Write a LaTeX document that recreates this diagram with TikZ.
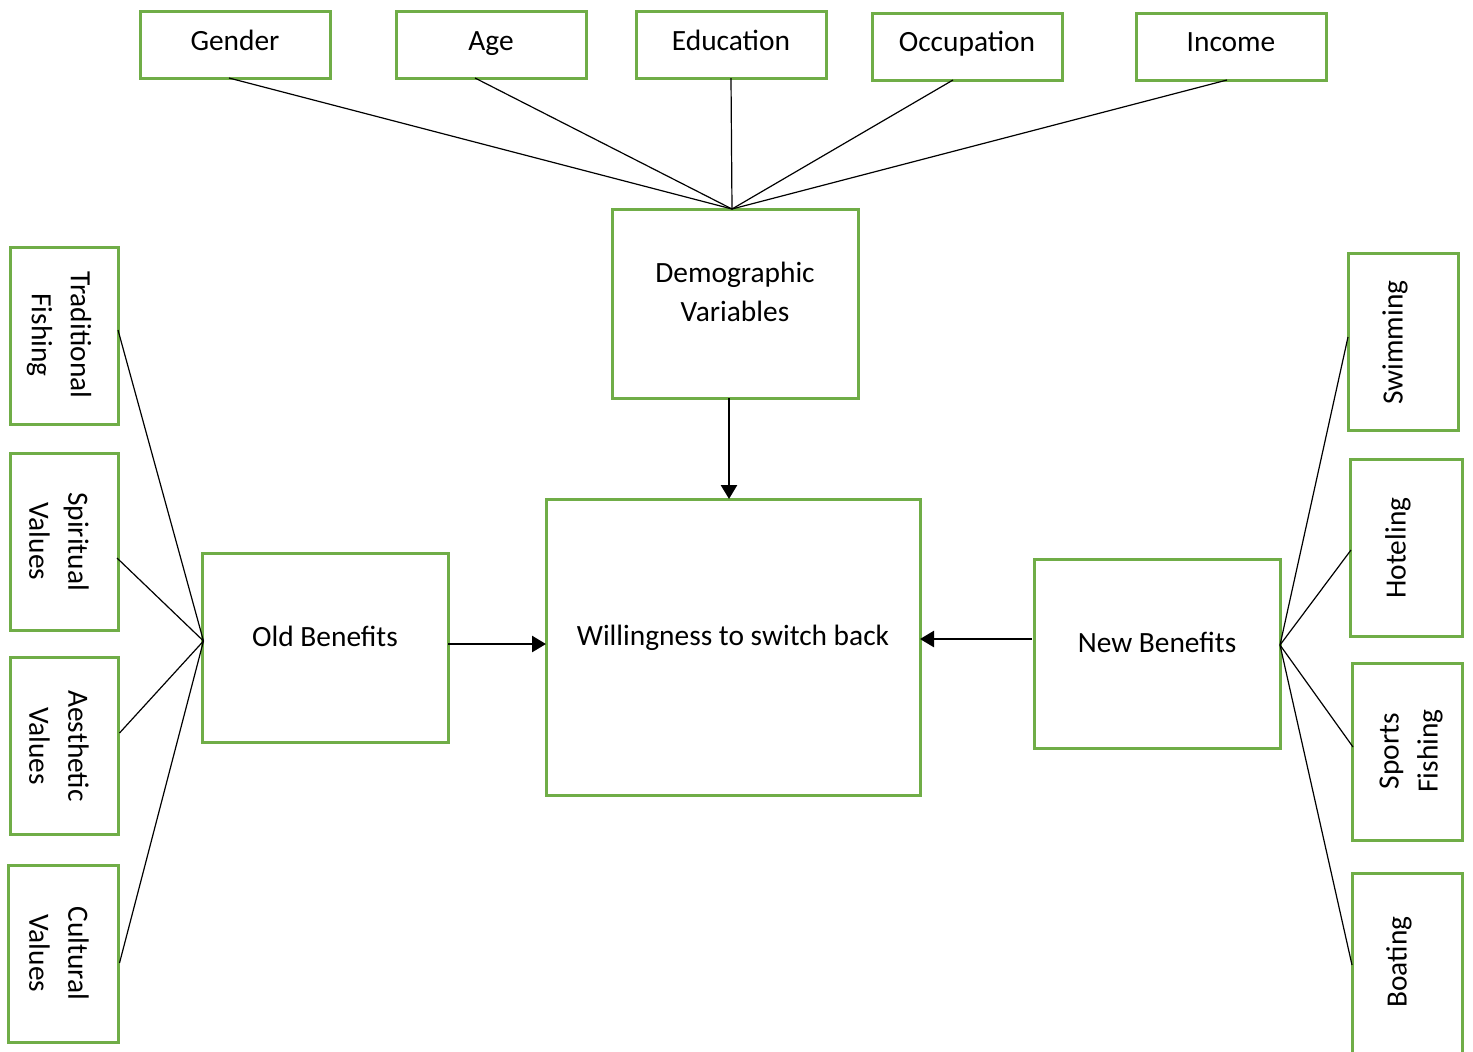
\documentclass[tikz,border=0pt]{standalone}
\usepackage{fontspec}
\setmainfont{Carlito}
\usetikzlibrary{calc,arrows.meta}
\definecolor{boxgreen}{HTML}{70AD47}
\tikzset{
  bx/.style 2 args={draw=boxgreen, line width=1.5pt, inner sep=0pt, outer sep=0pt,
    minimum width={(#1-2)*0.5pt}, minimum height={(#2-2)*0.5pt}},
  lbl/.style={inner sep=0pt, align=center, font=\fontsize{14.7}{19.5}\selectfont},
  fan/.style={draw=black, line width=0.6pt},
  arr/.style={draw=black, line width=1.3pt, -{Triangle[length=7pt,width=8pt]}}
}
\begin{document}
\begin{tikzpicture}[x=0.5pt,y=-0.5pt]
\useasboundingbox (0,0) rectangle (1473,1051);
\clip (0,0) rectangle (1473,1051);
% top boxes
\node[bx={192}{69}] (gender) at (235,44.5) {};
\node[bx={192}{69}] (age) at (491,44.5) {};
\node[bx={192}{69}] (edu) at (731,44.5) {};
\node[bx={192}{69}] (occ) at (967,46.5) {};
\node[bx={192}{69}] (inc) at (1231,46.5) {};
\node[lbl,anchor=base] (tgender) at (235,50) {Gender};
\node[lbl,anchor=base] (tage) at (491,50) {Age};
\node[lbl,anchor=base] (tedu) at (731,50) {Education};
\node[lbl,anchor=base] (tocc) at (967,51) {Occupation};
\node[lbl,anchor=base] (tinc) at (1231,51) {Income};
% central boxes
\node[bx={248}{191}] (demo) at (735,303.5) {};
\node[lbl] (tdemo) at (735,292) {Demographic\\Variables};
\node[bx={376}{298}] (will) at (733,647) {};
\node[lbl,anchor=base] (twill) at (733,645) {Willingness to switch back};
\node[bx={248}{191}] (old) at (325,647.5) {};
\node[lbl,anchor=base] (told) at (325,646) {Old Benefits};
\node[bx={248}{191}] (new) at (1157,653.5) {};
\node[lbl,anchor=base] (tnew) at (1157,652) {New Benefits};
% left boxes
\node[bx={110}{179}] (trad) at (64,335.5) {};
\node[bx={110}{179}] (spir) at (64,541.5) {};
\node[bx={110}{179}] (aest) at (64,745.5) {};
\node[bx={112}{179}] (cult) at (63,953.5) {};
\node[lbl,rotate=-90] (ttrad) at (59,335) {Traditional\\Fishing};
\node[lbl,rotate=-90] (tspir) at (59,541.5) {Spiritual\\Values};
\node[lbl,rotate=-90] (taest) at (59,746) {Aesthetic\\Values};
\node[lbl,rotate=-90] (tcult) at (59,953.5) {Cultural\\Values};
% right boxes
\node[bx={112}{179}] (swim) at (1403,341.5) {};
\node[bx={114}{179}] (hotel) at (1406,547.5) {};
\node[bx={112}{179}] (sport) at (1407,751.5) {};
\node[bx={112}{195}] (boat) at (1407,969.5) {};
\node[lbl,rotate=90] (tswim) at (1395,342.5) {Swimming};
\node[lbl,rotate=90] (thotel) at (1398,548) {Hoteling};
\node[lbl,rotate=90] (tsport) at (1411,751) {Sports\\Fishing};
\node[lbl,rotate=90] (tboat) at (1399,962) {Boating};
% fan lines to demographic
\coordinate (dtop) at ($(demo.north)+(-3,0)$);
\draw[fan] ($(gender.south)+(-6,0)$) -- (dtop);
\draw[fan] ($(age.south)+(-16,0)$) -- (dtop);
\draw[fan] (edu.south) -- (dtop);
\draw[fan] ($(occ.south)+(-14,0)$) -- (dtop);
\draw[fan] ($(inc.south)+(-4,0)$) -- (dtop);
% fan lines to old benefits
\coordinate (oleft) at ($(old.west)+(1.5,-6.5)$);
\draw[fan] ($(trad.east)+(0,-5.5)$) -- (oleft);
\draw[fan] ($(spir.east)+(-1,16.5)$) -- (oleft);
\draw[fan] ($(aest.east)+(1.5,-12.5)$) -- (oleft);
\draw[fan] ($(cult.east)+(1.5,9.5)$) -- (oleft);
% fan lines to new benefits
\coordinate (nright) at ($(new.east)+(0,-8.5)$);
\draw[fan] ($(swim.west)+(0,-4.5)$) -- (nright);
\draw[fan] ($(hotel.west)+(1,2.5)$) -- (nright);
\draw[fan] ($(sport.west)+(1,-4.5)$) -- (nright);
\draw[fan] ($(boat.west)+(0,-4.5)$) -- (nright);
% arrows
\draw[arr] ($(demo.south)+(-6,0)$) -- ($(will.north)+(-4,0)$);
\draw[arr] ($(old.east)+(0,-3.5)$) -- ($(will.west)+(0,-3)$);
\draw[arr] ($(new.west)+(-2,-14.5)$) -- ($(will.east)+(0,-8)$);
\end{tikzpicture}
\end{document}
